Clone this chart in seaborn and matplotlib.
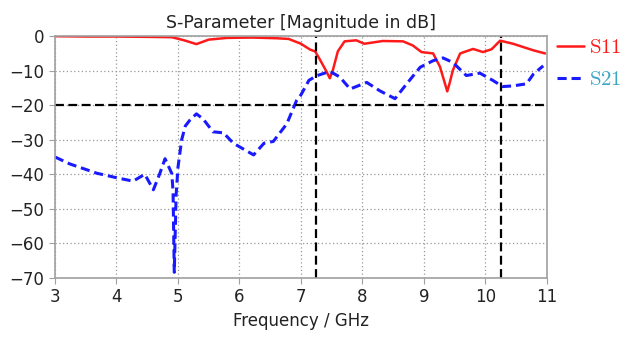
import pandas as pd
import seaborn as sns
import matplotlib.pyplot as plt

# S11 (reflection) readings
s11_freq = [3.0, 3.5, 4.0, 4.5, 4.9, 5.1, 5.3, 5.5, 5.8, 6.2, 6.6, 6.8, 7.0, 7.15, 7.23, 7.3,
            7.42, 7.47, 7.52, 7.6, 7.71, 7.9, 8.03, 8.33, 8.66, 8.82, 8.96, 9.15, 9.26, 9.33,
            9.38, 9.42, 9.47, 9.59, 9.8, 9.96, 10.1, 10.24, 10.45, 10.78, 10.97]
s11_db = [0.0, -0.1, -0.1, -0.2, -0.3, -1.2, -2.3, -1.0, -0.5, -0.4, -0.6, -0.8, -2.2, -3.9, -4.4, -6.5,
          -10.4, -12.2, -9.8, -4.4, -1.5, -1.2, -2.2, -1.4, -1.5, -2.7, -4.6, -5.0, -8.8, -13.0,
          -16.0, -13.5, -9.9, -5.0, -3.7, -4.6, -3.8, -1.3, -2.2, -4.1, -5.0]

# S21 (transmission) readings
s21_freq = [3.0, 3.24, 3.68, 4.0, 4.27, 4.46, 4.6, 4.7, 4.79, 4.9, 4.92, 4.94, 4.97, 5.0,
            5.06, 5.12, 5.19, 5.3, 5.41, 5.57, 5.74, 5.9, 6.23, 6.4, 6.55, 6.77, 6.93, 7.0,
            7.13, 7.25, 7.47, 7.63, 7.8, 8.07, 8.28, 8.53, 8.72, 8.94, 9.15, 9.31, 9.47, 9.69,
            9.91, 10.12, 10.28, 10.45, 10.67, 10.78, 10.94]
s21_db = [-35.0, -37.0, -39.7, -41.0, -42.0, -40.0, -44.5, -40.0, -35.5, -39.8, -45.0, -68.4, -46.0, -38.0,
          -30.0, -26.0, -24.4, -22.5, -24.0, -27.7, -28.0, -31.0, -34.4, -31.0, -30.5, -25.4, -18.6, -17.0,
          -12.8, -11.5, -10.2, -11.8, -15.3, -13.4, -15.8, -18.1, -13.8, -9.0, -7.1, -6.3, -7.6, -11.4,
          -10.7, -12.8, -14.6, -14.4, -13.8, -11.0, -8.6]

band_edges = [7.25, 10.25]
threshold = -20

df11 = pd.DataFrame({'freq': s11_freq, 'db': s11_db})
df21 = pd.DataFrame({'freq': s21_freq, 'db': s21_db})

sns.set_style('white')
plt.rcParams['font.family'] = ['DejaVu Sans']
plt.rcParams['mathtext.fontset'] = 'cm'

fig, ax = plt.subplots(figsize=(6.25, 3.38), dpi=100)
fig.subplots_adjust(left=0.088, right=0.875, top=0.893, bottom=0.178)

sns.lineplot(data=df11, x='freq', y='db', ax=ax, color='#ff1a1a', lw=1.8,
             label=r'$\mathrm{S11}$')
sns.lineplot(data=df21, x='freq', y='db', ax=ax, color='#1a1aff', lw=2.2,
             linestyle=(0, (3, 1.6)), label=r'$\mathrm{S21}$')

for x in band_edges:
    ax.axvline(x, color='black', lw=1.6, ls=(0, (4, 2)))
ax.axhline(threshold, color='black', lw=1.6, ls=(0, (4, 2)))

ax.set_xlim(3, 11)
ax.set_ylim(-70, 0)
ax.set_xticks(range(3, 12))
ax.set_yticks(range(-70, 1, 10))
ax.grid(True, color='#999999', ls=(0, (1, 2)), lw=0.9)
for s in ax.spines.values():
    s.set_color('#a0a0a0')
    s.set_linewidth(1.2)
ax.tick_params(axis='both', direction='out', length=4, color='#a0a0a0',
               labelsize=12, labelcolor='#222222', bottom=True, left=True)
ax.set_title('S-Parameter [Magnitude in dB]', fontsize=12.5, color='#222222', pad=6)
ax.set_xlabel('Frequency / GHz', fontsize=12, color='#222222')
ax.set_ylabel('')

leg = ax.legend(loc='upper left', bbox_to_anchor=(1.02, 0.995), frameon=False,
                fontsize=15, handlelength=1.3, handletextpad=0.25, borderpad=0,
                borderaxespad=0, labelspacing=0.55)
leg.get_texts()[0].set_color('#ff1a1a')
leg.get_texts()[1].set_color('#3aa6c8')

fig.savefig('out.png', dpi=100)
